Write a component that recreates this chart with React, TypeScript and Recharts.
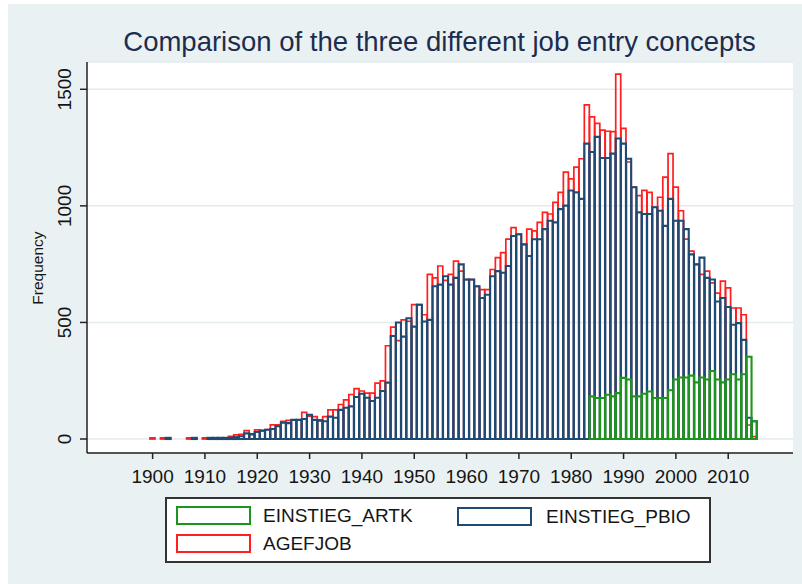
import { Bar, BarChart, CartesianGrid, XAxis, YAxis } from "recharts";

// one bar per year, 1900-2015
const YEARS = [
  1900, 1901, 1902, 1903, 1904, 1905, 1906, 1907, 1908, 1909,
  1910, 1911, 1912, 1913, 1914, 1915, 1916, 1917, 1918, 1919,
  1920, 1921, 1922, 1923, 1924, 1925, 1926, 1927, 1928, 1929,
  1930, 1931, 1932, 1933, 1934, 1935, 1936, 1937, 1938, 1939,
  1940, 1941, 1942, 1943, 1944, 1945, 1946, 1947, 1948, 1949,
  1950, 1951, 1952, 1953, 1954, 1955, 1956, 1957, 1958, 1959,
  1960, 1961, 1962, 1963, 1964, 1965, 1966, 1967, 1968, 1969,
  1970, 1971, 1972, 1973, 1974, 1975, 1976, 1977, 1978, 1979,
  1980, 1981, 1982, 1983, 1984, 1985, 1986, 1987, 1988, 1989,
  1990, 1991, 1992, 1993, 1994, 1995, 1996, 1997, 1998, 1999,
  2000, 2001, 2002, 2003, 2004, 2005, 2006, 2007, 2008, 2009,
  2010, 2011, 2012, 2013, 2014, 2015,
];

const AGEFJOB = [
  5, 0, 5, 0, 0, 0, 0, 5, 0, 0,
  5, 5, 5, 5, 5, 11, 18, 20, 36, 22,
  39, 36, 40, 61, 61, 76, 80, 82, 82, 114,
  98, 96, 82, 96, 125, 125, 148, 168, 191, 216,
  206, 197, 197, 240, 249, 400, 480, 422, 511, 505,
  576, 576, 533, 706, 691, 742, 680, 706, 763, 720,
  684, 684, 655, 641, 641, 727, 778, 799, 857, 907,
  878, 835, 900, 893, 929, 972, 965, 1015, 1058, 1145,
  1116, 1166, 1202, 1433, 1382, 1354, 1325, 1320, 1318, 1565,
  1332, 1188, 1080, 1044, 1066, 1058, 994, 1037, 1123, 1224,
  1080, 979, 857, 806, 749, 706, 720, 670, 626, 677,
  648, 562, 562, 533, 60, 10,
];

const EINSTIEG_PBIO = [
  0, 0, 0, 5, 0, 0, 0, 0, 5, 0,
  0, 5, 5, 5, 5, 5, 8, 12, 24, 20,
  30, 36, 40, 43, 55, 70, 68, 82, 82, 86,
  104, 82, 79, 76, 96, 91, 125, 134, 140, 180,
  194, 177, 163, 177, 206, 242, 442, 500, 439, 518,
  482, 576, 504, 511, 655, 662, 698, 662, 691, 749,
  684, 684, 655, 605, 619, 698, 720, 713, 742, 871,
  878, 835, 785, 857, 857, 900, 936, 929, 986, 1001,
  1066, 1058, 1030, 1267, 1231, 1296, 1205, 1205, 1224, 1289,
  1267, 1202, 1080, 972, 965, 965, 994, 979, 914, 1030,
  936, 936, 900, 792, 749, 778, 691, 684, 590, 605,
  566, 490, 497, 425, 91, 76,
];

const EINSTIEG_ARTK = [
  0, 0, 0, 0, 0, 0, 0, 0, 0, 0,
  0, 0, 0, 0, 0, 0, 0, 0, 0, 0,
  0, 0, 0, 0, 0, 0, 0, 0, 0, 0,
  0, 0, 0, 0, 0, 0, 0, 0, 0, 0,
  0, 0, 0, 0, 0, 0, 0, 0, 0, 0,
  0, 0, 0, 0, 0, 0, 0, 0, 0, 0,
  0, 0, 0, 0, 0, 0, 0, 0, 0, 0,
  0, 0, 0, 0, 0, 0, 0, 0, 0, 0,
  0, 0, 0, 0, 183, 176, 176, 190, 183, 197,
  262, 255, 183, 183, 194, 204, 176, 176, 176, 209,
  255, 264, 264, 272, 243, 264, 255, 292, 255, 243,
  255, 278, 255, 278, 353, 76,
];

const Y_TICKS = [0, 500, 1000, 1500];

const RED = "#ff1f1f";
const NAVY = "#1f4a74";
const GREEN = "#1b951b";
const FONT = "'Liberation Sans', Arial, sans-serif";
const BG = "#eaf1f3";

const data = YEARS.map((year, i) => ({
  year,
  AGEFJOB: AGEFJOB[i],
  EINSTIEG_PBIO: EINSTIEG_PBIO[i],
  EINSTIEG_ARTK: EINSTIEG_ARTK[i],
}));

const X_PAD = { left: 63, right: 36 };
const TICK = { fontSize: 19, fill: "#151515", fontFamily: FONT };

function YTick({ x, y, payload }: any) {
  return (
    <text x={x} y={y} transform={`rotate(-90 ${x} ${y})`} textAnchor="middle" fontSize={19} fill="#151515" fontFamily={FONT}>
      {payload.value}
    </text>
  );
}

function FreqLabel() {
  return (
    <text x={43.3} y={268} transform="rotate(-90 43.3 268)" textAnchor="middle" fontSize={15.5} fill="#151515" fontFamily={FONT}>
      Frequency
    </text>
  );
}

const LEGEND = [
  { name: "EINSTIEG_ARTK", color: GREEN, left: 9, top: 7, textLeft: 96 },
  { name: "EINSTIEG_PBIO", color: NAVY, left: 290, top: 8, textLeft: 379 },
  { name: "AGEFJOB", color: RED, left: 9, top: 35, textLeft: 96 },
];

export default function App() {
  return (
    <div style={{ position: "absolute", left: 0, top: 0, width: 802, height: 584, background: "#fff", fontFamily: FONT }}>
      <div style={{ position: "absolute", left: 8, top: 4, right: 0, bottom: 0, background: BG }} />
      <div
        style={{
          position: "absolute",
          left: 0,
          width: 879,
          top: 27.7,
          fontSize: 27.5,
          lineHeight: "27.5px",
          textAlign: "center",
          color: "#1c2d4f",
          whiteSpace: "nowrap",
        }}
      >
        Comparison of the three different job entry concepts
      </div>
      <div style={{ position: "absolute", left: 0, top: 0 }}>
        <BarChart
          width={802}
          height={584}
          data={data}
          margin={{ top: 62, right: 9, left: 0, bottom: 101 }}
          barCategoryGap={0}
          barGap={0}
        >
          <CartesianGrid vertical={false} stroke="#e3ebee" strokeWidth={1.5} fill="#fff" />
          <XAxis
            xAxisId="a"
            dataKey="year"
            height={30}
            padding={X_PAD}
            interval={9}
            tick={TICK}
            tickSize={6}
            tickMargin={11}
            tickLine={{ stroke: "#222", strokeWidth: 1.5 }}
            axisLine={{ stroke: "#222", strokeWidth: 1.5 }}
          />
          <XAxis xAxisId="b" dataKey="year" padding={X_PAD} hide />
          <XAxis xAxisId="c" dataKey="year" padding={X_PAD} hide />
          <YAxis
            width={87}
            domain={[-60, 1617]}
            ticks={Y_TICKS}
            allowDataOverflow
            tick={<YTick />}
            tickSize={7}
            tickMargin={9.3}
            tickLine={{ stroke: "#222", strokeWidth: 1.5 }}
            axisLine={{ stroke: "#222", strokeWidth: 1.5 }}
            label={<FreqLabel />}
          />
          <Bar xAxisId="a" dataKey="AGEFJOB" fill="none" stroke={RED} strokeWidth={1.7} isAnimationActive={false} />
          <Bar xAxisId="b" dataKey="EINSTIEG_PBIO" fill="none" stroke={NAVY} strokeWidth={2.1} isAnimationActive={false} />
          <Bar xAxisId="c" dataKey="EINSTIEG_ARTK" fill="none" stroke={GREEN} strokeWidth={2.1} isAnimationActive={false} />
        </BarChart>
      </div>
      <div
        style={{
          position: "absolute",
          left: 165,
          top: 497,
          width: 546,
          height: 66,
          boxSizing: "border-box",
          border: "2px solid #333",
          background: "#fff",
        }}
      >
        {LEGEND.map((it) => (
          <div key={it.name}>
            <div
              style={{
                position: "absolute",
                left: it.left,
                top: it.top,
                width: 75,
                height: 19,
                boxSizing: "border-box",
                border: `2px solid ${it.color}`,
              }}
            />
            <div
              style={{
                position: "absolute",
                left: it.textLeft,
                top: it.top,
                fontSize: 19,
                lineHeight: "19px",
                color: "#151515",
                whiteSpace: "nowrap",
              }}
            >
              {it.name}
            </div>
          </div>
        ))}
      </div>
    </div>
  );
}
